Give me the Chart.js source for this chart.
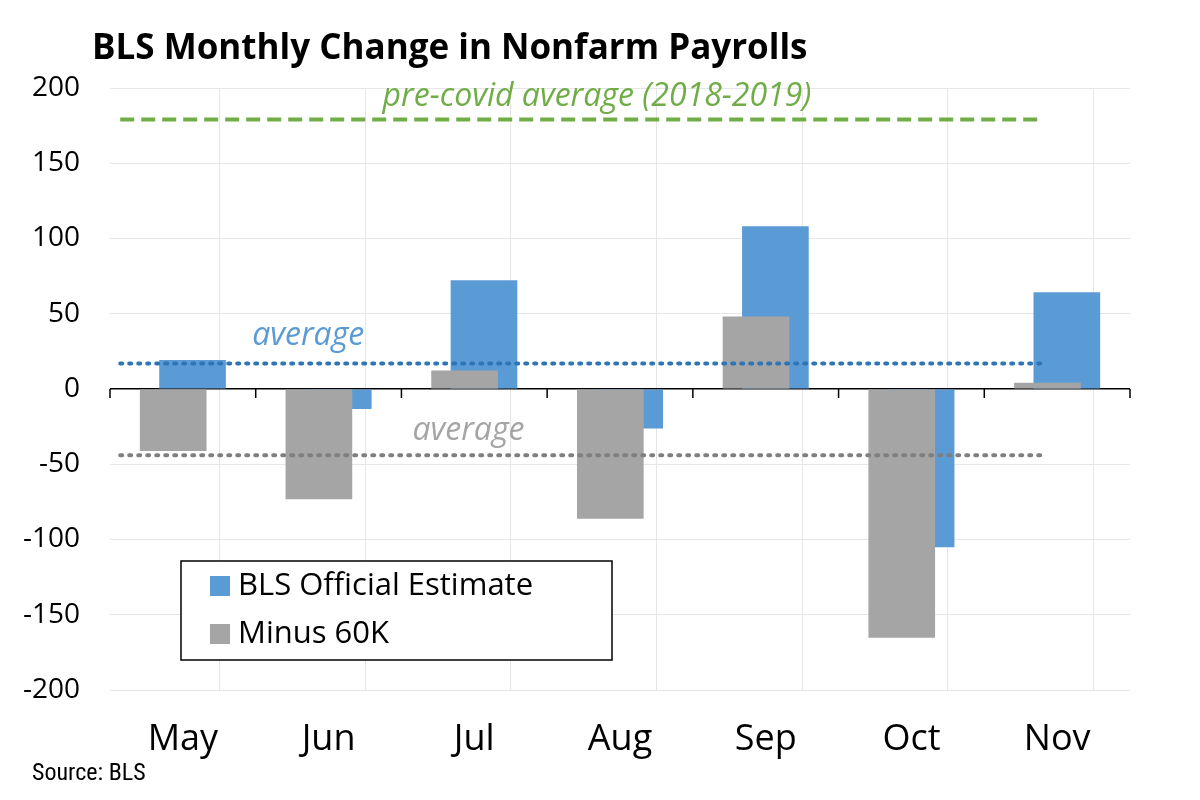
<!DOCTYPE html>
<html>
<head>
<meta charset="utf-8">
<script src="https://cdn.jsdelivr.net/npm/chart.js@4"></script>
<style>
  body { margin: 0; background: #fff; }
  #wrap { position: relative; width: 1200px; height: 800px; }
  #title { position: absolute; left: 92px; top: 22px; font: bold 35px "Open Sans", sans-serif; color: #000; }
  #source { position: absolute; left: 32px; top: 758px; font: 24px "Roboto Condensed", "Liberation Sans Narrow", sans-serif; color: #000; }
</style>
</head>
<body>
<div id="wrap">
  <canvas id="c" width="1200" height="800"></canvas>
  <div id="title">BLS Monthly Change in Nonfarm Payrolls</div>
  <div id="source">Source: BLS</div>
</div>
<script>
// valores (milhares)
const months = ['May', 'Jun', 'Jul', 'Aug', 'Sep', 'Oct', 'Nov'];
const official = [19, -13, 72, -26, 108, -105, 64];
const minus60 = [-41, -73, 12, -86, 48, -165, 4];
const officialAvg = 17;
const minusAvg = -44;
const preCovidAvg = 179;
const yTicks = [-200, -150, -100, -50, 0, 50, 100, 150, 200];

const BLUE = '#5b9bd5', GRAY = '#a5a5a5', GREEN = '#70ad47';
const lineStart = -0.43, lineEnd = 5.9;

function flatLine(v) { return [{ x: lineStart, y: v }, { x: lineEnd, y: v }]; }

// textos, marcas do eixo zero e legenda desenhados sobre o gráfico
const overlay = {
  id: 'overlay',
  afterDatasetsDraw(chart) {
    const { ctx, scales: { x, y } } = chart;
    const y0 = y.getPixelForValue(0);
    ctx.save();
    ctx.strokeStyle = '#000';
    ctx.lineWidth = 1.5;
    for (let v = -0.5; v <= 6.5; v += 1) {
      const px = x.getPixelForValue(v);
      ctx.beginPath(); ctx.moveTo(px, y0); ctx.lineTo(px, y0 + 9); ctx.stroke();
    }
    ctx.restore();
  },
  afterDraw(chart) {
    const { ctx, scales: { x, y } } = chart;
    ctx.save();
    ctx.textAlign = 'center';
    ctx.textBaseline = 'middle';
    ctx.font = 'italic 32px "Open Sans", sans-serif';
    ctx.fillStyle = GREEN;
    ctx.fillText('pre-covid average (2018-2019)', 597, y.getPixelForValue(preCovidAvg) - 23);
    ctx.fillStyle = BLUE;
    ctx.fillText('average', x.getPixelForValue(0.86), y.getPixelForValue(officialAvg) - 28);
    ctx.fillStyle = GRAY;
    ctx.fillText('average', x.getPixelForValue(1.96), y.getPixelForValue(minusAvg) - 24);

    // legenda
    ctx.fillStyle = '#fff';
    ctx.fillRect(181, 561, 431, 99);
    ctx.strokeStyle = '#000';
    ctx.lineWidth = 1.5;
    ctx.strokeRect(181, 561, 431, 99);
    ctx.textAlign = 'left';
    ctx.font = '31px "Open Sans", sans-serif';
    ctx.fillStyle = BLUE;
    ctx.fillRect(210, 576, 20, 20);
    ctx.fillStyle = GRAY;
    ctx.fillRect(210, 624, 20, 20);
    ctx.fillStyle = '#000';
    ctx.fillText('BLS Official Estimate', 238, 586);
    ctx.fillText('Minus 60K', 238, 634);
    ctx.restore();
  }
};

new Chart(document.getElementById('c'), {
  type: 'bar',
  data: {
    datasets: [
      { label: 'BLS Official Estimate', data: official.map((v, i) => ({ x: i - 0.16, y: v })),
        backgroundColor: BLUE, barThickness: 66, order: 3 },
      { label: 'Minus 60K', data: minus60.map((v, i) => ({ x: i + 0.16, y: v })),
        backgroundColor: GRAY, barThickness: 66, order: 2 },
      { type: 'line', data: flatLine(officialAvg), borderColor: '#2e75b6', borderWidth: 4,
        borderDash: [2, 7], borderCapStyle: 'round', pointRadius: 0, order: 1 },
      { type: 'line', data: flatLine(minusAvg), borderColor: '#7f7f7f', borderWidth: 4,
        borderDash: [2, 7], borderCapStyle: 'round', pointRadius: 0, order: 1 },
      { type: 'line', data: flatLine(preCovidAvg), borderColor: GREEN, borderWidth: 4,
        borderDash: [14, 7], pointRadius: 0, order: 1 }
    ]
  },
  options: {
    responsive: false,
    animation: false,
    layout: { padding: { top: 88, right: 70 } },
    plugins: { legend: { display: false }, tooltip: { enabled: false } },
    scales: {
      x: {
        type: 'linear', min: -0.5, max: 6.5, offset: false,
        afterFit(s) { s.height = 110; },
        afterBuildTicks(s) { s.ticks = []; for (let v = -0.5; v <= 6.5; v += 0.5) s.ticks.push({ value: v }); },
        ticks: {
          padding: 28, color: '#000', font: { size: 36, family: 'Open Sans' },
          maxRotation: 0, minRotation: 0, autoSkip: false,
          callback: v => Number.isInteger(v) ? months[v] : ''
        },
        grid: { color: c => (c.tick && !Number.isInteger(c.tick.value)) ? '#e6e6e6' : 'transparent', drawTicks: false },
        border: { display: false }
      },
      y: {
        min: -200, max: 200,
        afterFit(s) { s.width = 110; },
        afterBuildTicks(s) { s.ticks = yTicks.map(v => ({ value: v })); },
        ticks: { color: '#000', font: { size: 28, family: 'Open Sans' }, padding: 30 },
        grid: { color: c => c.tick && c.tick.value === 0 ? '#000' : '#e6e6e6', lineWidth: c => c.tick && c.tick.value === 0 ? 1.5 : 1, drawTicks: false },
        border: { display: false }
      }
    }
  },
  plugins: [overlay]
});
</script>
</body>
</html>
